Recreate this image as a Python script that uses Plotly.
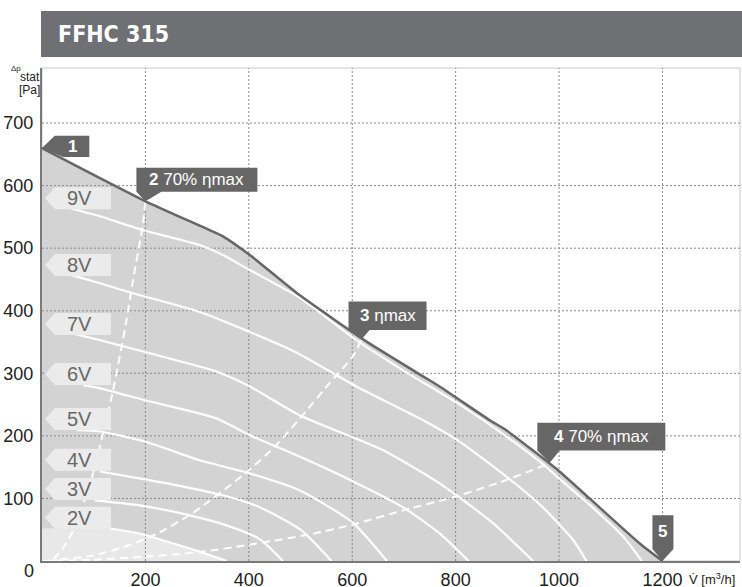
import plotly.graph_objects as go

# ---------------- data ----------------
x_ticks = [200, 400, 600, 800, 1000, 1200]
y_ticks = [100, 200, 300, 400, 500, 600, 700]

# maximum curve (10V) through operating points 1..5
flow_max = [0, 112, 200, 324, 350, 402, 498, 627, 737, 769, 866, 898, 998, 1059, 1156, 1200]
p_max = [660, 612, 575, 529, 519, 489, 425, 351, 295, 279, 225, 209, 145, 100, 28, 0]

flow_9v = [57, 112, 195, 305, 350, 402, 498, 608, 700, 808, 900, 967, 1000, 1059, 1124, 1160]
p_9v = [563, 551, 529, 505, 489, 465, 421, 353, 304, 250, 198, 156, 132, 90, 39, 0]

flow_8v = [57, 112, 176, 305, 402, 490, 608, 737, 802, 898, 967, 1027, 1053]
p_8v = [457, 444, 428, 398, 366, 334, 279, 225, 194, 135, 87, 34, 0]

flow_7v = [57, 112, 199, 337, 402, 498, 660, 769, 870, 950]
p_7v = [364, 353, 334, 303, 279, 233, 177, 124, 62, 0]

flow_6v = [80, 112, 199, 337, 402, 498, 600, 700, 769, 825]
p_6v = [281, 276, 257, 228, 201, 167, 128, 85, 44, 0]

flow_5v = [67, 112, 199, 305, 402, 498, 600, 667]
p_5v = [209, 207, 191, 161, 140, 113, 62, 0]

flow_4v = [112, 202, 273, 350, 421, 500, 560]
p_4v = [143, 130, 119, 105, 86, 50, 0]

flow_3v = [102, 189, 286, 357, 421, 466]
p_3v = [97, 89, 73, 57, 35, 0]

flow_2v = [131, 189, 254, 305, 357]
p_2v = [52, 44, 28, 15, 0]

# efficiency lines (dashed)
flow_eff2 = [22, 40, 60, 92, 111, 137, 163, 176, 195, 200]
p_eff2 = [3, 20, 48, 120, 180, 271, 383, 449, 537, 575]

flow_eff3 = [10, 100, 160, 221, 292, 390, 448, 497, 557, 602, 618]
p_eff3 = [0, 9, 23, 43, 77, 138, 181, 226, 285, 328, 354]

flow_eff4 = [0, 100, 200, 303, 400, 515, 600, 703, 792, 883, 960, 982]
p_eff4 = [0, 2, 7, 14, 26, 42, 58, 82, 101, 125, 149, 157]

# operating point markers 1..5
op_texts = ["<b>1</b>", "<b>2</b> 70% ηmax", "<b>3</b> ηmax", "<b>4</b> 70% ηmax", "<b>5</b>"]
op_flow = [0, 200, 618, 982, 1200]
op_p = [660, 575, 354, 157, 0]

# speed labels
speed_labels = ["9V", "8V", "7V", "6V", "5V", "4V", "3V", "2V"]
speed_label_p = [580, 473, 379, 299, 227, 162, 115, 69]

# ---------------- styling ----------------
W, H = 742, 587
ML, MR, MT, MB = 42, 2, 68, 26
PW, PH = W - ML - MR, H - MT - MB
X_MAX, Y_MAX = 1350, 788

DARK = "#666666"
FILL = "#d3d3d3"
LIGHT = "#e8e8e8"
LABEL_BG = "#ebebeb"
GRID = "#8a8a8a"
FONT = "Liberation Sans, Arial, sans-serif"


def pxx(px):
    return (px - ML) / PW


def pxy(py):
    return (H - MB - py) / PH


fig = go.Figure()

# gray area under max curve
fig.add_trace(go.Scatter(x=flow_max, y=p_max, mode="lines", line=dict(width=0, shape="spline", smoothing=0.5),
                         fill="tozeroy", fillcolor=FILL, hoverinfo="skip", showlegend=False))
# light area under the 2V curve
fig.add_trace(go.Scatter(x=[0] + flow_2v, y=[p_2v[0]] + p_2v, mode="lines",
                         line=dict(width=0, shape="spline", smoothing=0.5),
                         fill="tozeroy", fillcolor=LIGHT, hoverinfo="skip", showlegend=False))

# grid lines (dotted) drawn above the fill
for xv in x_ticks:
    fig.add_trace(go.Scatter(x=[xv, xv], y=[0, Y_MAX], mode="lines",
                             line=dict(color=GRID, width=1, dash="2px,2px"), hoverinfo="skip", showlegend=False))
for yv in y_ticks:
    fig.add_trace(go.Scatter(x=[0, X_MAX], y=[yv, yv], mode="lines",
                             line=dict(color=GRID, width=1, dash="2px,2px"), hoverinfo="skip", showlegend=False))

# speed curves
for fx, py_ in [(flow_9v, p_9v), (flow_8v, p_8v), (flow_7v, p_7v), (flow_6v, p_6v),
                (flow_5v, p_5v), (flow_4v, p_4v), (flow_3v, p_3v), (flow_2v, p_2v)]:
    fig.add_trace(go.Scatter(x=fx, y=py_, mode="lines",
                             line=dict(color="white", width=2.2, shape="spline", smoothing=0.6),
                             hoverinfo="skip", showlegend=False))

# efficiency lines
for fx, py_ in [(flow_eff2, p_eff2), (flow_eff3, p_eff3), (flow_eff4, p_eff4)]:
    fig.add_trace(go.Scatter(x=fx, y=py_, mode="lines",
                             line=dict(color="white", width=2, dash="8px,5px", shape="spline", smoothing=0.6),
                             hoverinfo="skip", showlegend=False))

# max curve
fig.add_trace(go.Scatter(x=flow_max, y=p_max, mode="lines",
                         line=dict(color=DARK, width=2.5, shape="spline", smoothing=0.5),
                         hoverinfo="skip", showlegend=False))

shapes = []
annotations = []

# frame: light top / right border
shapes.append(dict(type="rect", xref="paper", yref="paper", x0=0, x1=1, y0=0, y1=1,
                   line=dict(color="#c8c8c8", width=1), layer="below"))

# title bar
shapes.append(dict(type="rect", xref="paper", yref="paper", x0=pxx(41), x1=pxx(745), y0=pxy(57), y1=pxy(11),
                   fillcolor="#6f7073", line=dict(width=0)))
annotations.append(dict(text="<b>FFHC 315</b>", xref="paper", yref="paper", x=pxx(56), y=pxy(34),
                        xanchor="left", yanchor="middle", showarrow=False,
                        font=dict(family="DejaVu Sans Condensed, Liberation Sans Narrow, sans-serif",
                                  size=23, color="white")))

# speed labels (light arrow boxes pointing left)
for lab, pv in zip(speed_labels, speed_label_p):
    shapes.append(dict(type="path", xref="x", yref="y", xsizemode="pixel", ysizemode="pixel",
                       xanchor=0, yanchor=pv,
                       path="M 3,0 L 13,11 L 69,11 L 69,-11 L 13,-11 Z",
                       fillcolor=LABEL_BG, line=dict(width=0)))
    annotations.append(dict(text=lab, x=0, y=pv, xref="x", yref="y", xanchor="center", yanchor="middle",
                            xshift=37, yshift=0, showarrow=False,
                            font=dict(family=FONT, size=20, color="#686868")))

# operating point callouts (dark)
callout_paths = [
    "M 0,0 L 12.7,12.4 L 47.3,12.4 L 47.3,-9 L 21,-9 Z",
    "M -9,33.6 L 112,33.6 L 112,9.6 L 16,9.6 L 0,0 L -9,9.6 Z",
    "M -13,38 L 65,38 L 65,9.5 L 8,9.5 L 0,0 L -13,9.5 Z",
    "M -12.4,40 L 115.6,40 L 115.6,12.3 L 10,12.3 L 0,0 L -12.4,12.3 Z",
    "M -10,45.7 L 11,45.7 L 11,12 L 0,0 L -10,12 Z",
]
text_shift = [(30, 1.5), (51.5, 21.6), (26, 23.7), (51.6, 26), (0.5, 30)]
for path, (tx, ty), fx, fy, txt in zip(callout_paths, text_shift, op_flow, op_p, op_texts):
    shapes.append(dict(type="path", xref="x", yref="y", xsizemode="pixel", ysizemode="pixel",
                       xanchor=fx, yanchor=fy, path=path, fillcolor=DARK, line=dict(width=0)))
    annotations.append(dict(text=txt, x=fx, y=fy, xref="x", yref="y", xanchor="center", yanchor="middle",
                            xshift=tx, yshift=ty, showarrow=False,
                            font=dict(family=FONT, size=17, color="white")))

# axis titles
annotations.append(dict(text="Δp", xref="paper", yref="paper", x=pxx(16), y=pxy(68), showarrow=False,
                        xanchor="center", yanchor="middle", font=dict(family=FONT, size=8, color="#222")))
annotations.append(dict(text="stat", xref="paper", yref="paper", x=pxx(30), y=pxy(77), showarrow=False,
                        xanchor="center", yanchor="middle", font=dict(family=FONT, size=12, color="#222")))
annotations.append(dict(text="[Pa]", xref="paper", yref="paper", x=pxx(29), y=pxy(90), showarrow=False,
                        xanchor="center", yanchor="middle", font=dict(family=FONT, size=12, color="#222")))
annotations.append(dict(text="0", xref="paper", yref="paper", x=pxx(29), y=pxy(571), showarrow=False,
                        xanchor="center", yanchor="middle", font=dict(family=FONT, size=18, color="#222")))
annotations.append(dict(text="V̇ [m<sup>3</sup>/h]", xref="paper", yref="paper", x=pxx(712), y=pxy(579),
                        showarrow=False, xanchor="center", yanchor="middle",
                        font=dict(family=FONT, size=13, color="#222")))

fig.update_layout(
    width=W, height=H,
    margin=dict(l=ML, r=MR, t=MT, b=MB, pad=0),
    paper_bgcolor="white", plot_bgcolor="white",
    shapes=shapes, annotations=annotations,
    xaxis=dict(range=[0, X_MAX], tickvals=x_ticks, ticktext=[str(v) for v in x_ticks],
               showgrid=False, zeroline=False, showline=True, linecolor="#7a7a7a", linewidth=2,
               ticks="", ticklabelstandoff=1, tickfont=dict(family=FONT, size=18, color="#222"),
               automargin=False, fixedrange=True),
    yaxis=dict(range=[0, Y_MAX], tickvals=y_ticks, ticktext=[str(v) for v in y_ticks],
               showgrid=False, zeroline=False, showline=True, linecolor="#7a7a7a", linewidth=2,
               ticks="", ticklabelstandoff=3, tickfont=dict(family=FONT, size=18, color="#222"),
               automargin=False, fixedrange=True),
    showlegend=False,
)

fig.write_html("out.html", config={"displayModeBar": False},
               post_script="document.body.style.margin='0px';document.body.style.overflow='hidden';")
